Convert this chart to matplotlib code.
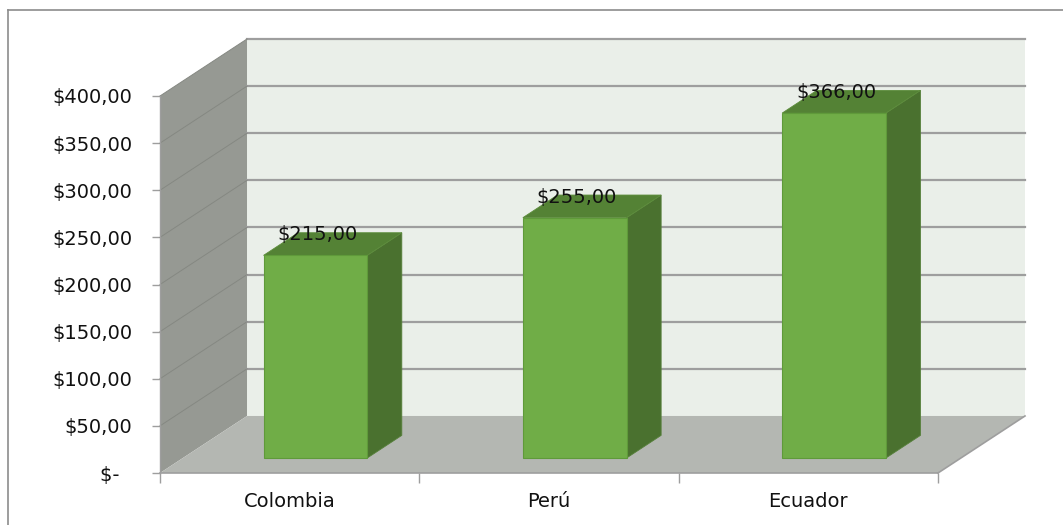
import matplotlib
matplotlib.use("Agg")
import matplotlib.pyplot as plt
from matplotlib.patches import Polygon
from matplotlib.lines import Line2D

# data
categories = ["Colombia", "Perú", "Ecuador"]
values = [215.0, 255.0, 366.0]
y_ticks = [0, 50, 100, 150, 200, 250, 300, 350, 400]
y_labels = ["$-  ", "$50,00", "$100,00", "$150,00", "$200,00",
            "$250,00", "$300,00", "$350,00", "$400,00"]

# fake 3d geometry (data units)
DX, DY = 0.3355, 60.5        # depth offset of the back wall
F0, F1 = 0.263, 0.66         # bar depth span as fraction of full depth
BAR_W = 0.40
X_NUDGE = 0.011
YMAX = 400

WALL_BACK = "#eaefe9"
WALL_SIDE = "#969993"
FLOOR = "#b4b7b2"
GRID = "#9e9e9e"
FRONT = "#70ad47"
TOP = "#548235"
SIDE = "#4a712f"
TXT = "#111111"

plt.rcParams["font.family"] = ["DejaVu Sans"]
fig = plt.figure(figsize=(10.63, 5.25), dpi=100)
W, H = 1063, 525
ax = fig.add_axes([160 / W, (H - 473) / H, 778 / W, 377 / H])
n = len(categories)
ax.set_xlim(0, n)
ax.set_ylim(0, YMAX)
for s in ax.spines.values():
    s.set_visible(False)
ax.patch.set_visible(False)

kw = dict(clip_on=False)
# back wall
ax.add_patch(Polygon([(DX, DY), (n + DX, DY), (n + DX, YMAX + DY), (DX, YMAX + DY)],
                     closed=True, fc=WALL_BACK, ec="none", zorder=1, **kw))
# side wall
ax.add_patch(Polygon([(0, 0), (DX, DY), (DX, YMAX + DY), (0, YMAX)],
                     closed=True, fc=WALL_SIDE, ec="none", zorder=1, **kw))
# floor
ax.add_patch(Polygon([(0, 0), (n, 0), (n + DX, DY), (DX, DY)],
                     closed=True, fc=FLOOR, ec="none", zorder=1, **kw))
# gridlines
for v in y_ticks[1:]:
    ax.plot([DX, n + DX], [v + DY, v + DY], color=GRID, lw=1.6, zorder=2, **kw)
    ax.plot([0, DX], [v, v + DY], color="#858882", lw=0.7, zorder=2, **kw)
# floor edges / axis lines
ax.plot([0, n], [0, 0], color=GRID, lw=1.2, zorder=3, **kw)
ax.plot([n, n + DX], [0, DY], color=GRID, lw=1.2, zorder=3, **kw)
ax.plot([0, 0], [0, YMAX], color=GRID, lw=1.0, zorder=3, **kw)

# bars
xs = [i + 0.5 + F0 * DX + X_NUDGE for i in range(n)]
y0 = F0 * DY
ddx = (F1 - F0) * DX
ddy = (F1 - F0) * DY
for x, v in zip(xs, values):
    xl, xr = x - BAR_W / 2, x + BAR_W / 2
    top = y0 + v
    ax.add_patch(Polygon([(xr, y0), (xr + ddx, y0 + ddy), (xr + ddx, top + ddy), (xr, top)],
                         closed=True, fc=SIDE, ec="#56803a", lw=0.6, zorder=4, **kw))
    ax.add_patch(Polygon([(xl, top), (xr, top), (xr + ddx, top + ddy), (xl + ddx, top + ddy)],
                         closed=True, fc=TOP, ec="#5d8d3c", lw=0.6, zorder=4, **kw))
ax.bar(xs, values, width=BAR_W, bottom=y0, color=FRONT, edgecolor="#5f9a3a",
       linewidth=0.8, zorder=5)
for x, v in zip(xs, values):
    ax.annotate(f"${v:,.2f}".replace(".", ","), (x, y0 + v + ddy), xytext=(1.5, -1.5),
                textcoords="offset points", ha="center", va="center",
                fontsize=14, color=TXT, zorder=6, annotation_clip=False)

# ticks
ax.set_yticks(y_ticks)
ax.set_yticklabels(y_labels, fontsize=14, color=TXT)
ax.set_xticks(range(n + 1))
ax.set_xticklabels([""] * (n + 1))
ax.tick_params(axis="y", length=6, width=1, color=GRID, pad=14)
ax.tick_params(axis="x", length=7, width=1, color=GRID)
for i, c in enumerate(categories):
    ax.text(i + 0.5, -30, c, ha="center", va="center", fontsize=14, color=TXT)

# chart border
fig.add_artist(Line2D([7.5 / W, 7.5 / W], [0, 1 - 10 / H], transform=fig.transFigure,
                      color="#8c8c8c", lw=1.2))
fig.add_artist(Line2D([7.5 / W, 1], [1 - 10 / H, 1 - 10 / H], transform=fig.transFigure,
                      color="#8c8c8c", lw=1.2))

fig.savefig("out.png", dpi=100)
